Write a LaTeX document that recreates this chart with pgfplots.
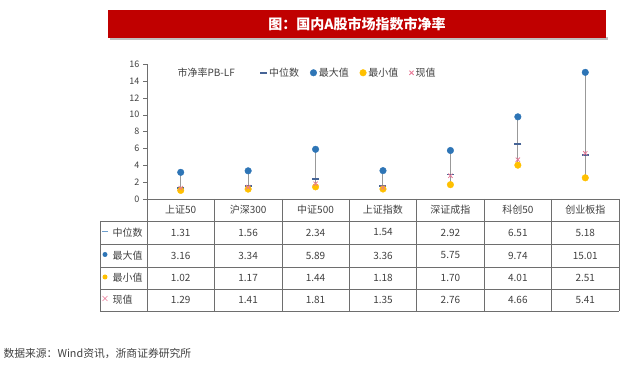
\documentclass[border=0pt]{standalone}
\usepackage{pgfplots}
\usepackage{pgfplotstable}
\pgfplotsset{compat=1.18}
\usepackage{fontspec}
\setmainfont{Noto Sans CJK SC}
\definecolor{bannerred}{RGB}{192,0,0}
\definecolor{maxblue}{RGB}{46,117,182}
\definecolor{mingold}{RGB}{255,192,0}
\definecolor{curpink}{RGB}{232,120,150}
\definecolor{medblue}{RGB}{70,100,150}
\definecolor{gridgray}{RGB}{110,110,110}
\definecolor{txt}{RGB}{64,64,64}
\pgfplotstableread{
x med max min cur
0 1.31 3.16 1.02 1.29
1 1.56 3.34 1.17 1.41
2 2.34 5.89 1.44 1.81
3 1.54 3.36 1.18 1.35
4 2.92 5.75 1.70 2.76
5 6.51 9.74 4.01 4.66
6 5.18 15.01 2.51 5.41
}\datatable
\newcommand\tf{\fontsize{10}{12}\selectfont}
\begin{document}
\begin{tikzpicture}[x=1pt,y=1pt]
\path[use as bounding box] (0,0) rectangle (640,366);
% banner
\fill[black!25] (110,326) rectangle (608,329);
\fill[bannerred] (108,328) rectangle (606,356);
\node[text=white,font=\fontsize{14}{16}\selectfont\bfseries] at (357,342) {图：国内A股市场指数市净率};
\begin{axis}[
  at={(147pt,167pt)}, anchor=south west,
  scale only axis, width=472pt, height=135pt,
  xmin=-0.5, xmax=6.5, ymin=0, ymax=16,
  axis x line=none, axis y line=left,
  y axis line style={-, draw=gridgray},
  ytick={0,2,...,16}, tick align=outside, major tick length=4pt,
  ytick style={draw=gridgray},
  yticklabel style={font=\fontsize{9}{10}\selectfont, text=txt},
  /pgf/number format/assume math mode=true,
  clip=false,
  unbounded coords=jump,
  legend style={at={(0.233,0.935)}, anchor=west, draw=none, fill=none,
    font=\tf, text=txt, legend columns=-1,
    /tikz/every odd column/.append style={column sep=0pt},
    /tikz/every even column/.append style={column sep=9pt}},
  legend image code/.code={\draw[#1] plot coordinates {(0.12cm,0cm)};},
]
\addplot[gray!80, line width=1pt, forget plot] coordinates {
 (0,1.02) (0,3.16) (0.5,nan)
 (1,1.17) (1,3.34) (1.5,nan)
 (2,1.44) (2,5.89) (2.5,nan)
 (3,1.18) (3,3.36) (3.5,nan)
 (4,1.70) (4,5.75) (4.5,nan)
 (5,4.01) (5,9.74) (5.5,nan)
 (6,2.51) (6,15.01)
};
\addplot[only marks, mark=-, mark size=3.5pt, mark options={line width=1.6pt, draw=medblue}] table[x=x,y=med] {\datatable};
\addlegendentry{中位数}
\addplot[only marks, mark=*, mark size=3.3pt, mark options={draw=maxblue, fill=maxblue}] table[x=x,y=max] {\datatable};
\addlegendentry{最大值}
\addplot[only marks, mark=*, mark size=3.3pt, mark options={draw=mingold, fill=mingold}] table[x=x,y=min] {\datatable};
\addlegendentry{最小值}
\addplot[only marks, mark=x, mark size=3pt, mark options={draw=curpink, line width=0.8pt}] table[x=x,y=cur] {\datatable};
\addlegendentry{现值}
\end{axis}
\node[anchor=west, font=\tf, text=txt] at (174,293) {市净率PB-LF};
% table grid
\draw[gridgray, line width=0.6pt] (147,167) -- (619,167);
\foreach \yy in {145,122,99,77,55} \draw[gridgray, line width=0.6pt] (100,\yy) -- (619,\yy);
\draw[gridgray, line width=0.6pt] (100,145) -- (100,55);
\foreach \k in {0,...,7} \draw[gridgray, line width=0.6pt] ({147+67.43*\k},167) -- ({147+67.43*\k},55);
% header
\foreach \lab [count=\i from 0] in {上证50,沪深300,中证500,上证指数,深证成指,科创50,创业板指}
  \node[font=\tf, text=txt] at ({180.7+67.43*\i},156) {\lab};
% row labels
\fill[maxblue!70] (102,133.5) rectangle (108,134.7);
\node[anchor=west, font=\tf, text=txt] at (109,133.5) {中位数};
\fill[maxblue] (105,111.5) circle (2.5);
\node[anchor=west, font=\tf, text=txt] at (109,110.5) {最大值};
\fill[mingold] (105,89) circle (2.5);
\node[anchor=west, font=\tf, text=txt] at (109,88) {最小值};
\draw[curpink, line width=0.6pt] (102.5,65) -- (107.5,70) (102.5,70) -- (107.5,65);
\node[anchor=west, font=\tf, text=txt] at (109,66) {现值};
% values
\foreach \v [count=\i from 0] in {1.31,1.56,2.34,1.54,2.92,6.51,5.18}
  \node[font=\tf, text=txt] at ({180.7+67.43*\i},133.5) {\v};
\foreach \v [count=\i from 0] in {3.16,3.34,5.89,3.36,5.75,9.74,15.01}
  \node[font=\tf, text=txt] at ({180.7+67.43*\i},110.5) {\v};
\foreach \v [count=\i from 0] in {1.02,1.17,1.44,1.18,1.70,4.01,2.51}
  \node[font=\tf, text=txt] at ({180.7+67.43*\i},88) {\v};
\foreach \v [count=\i from 0] in {1.29,1.41,1.81,1.35,2.76,4.66,5.41}
  \node[font=\tf, text=txt] at ({180.7+67.43*\i},66) {\v};
% source
\node[anchor=west, font=\fontsize{10.8}{13}\selectfont, text=txt] at (0,12) {数据来源：Wind资讯，浙商证券研究所};
\end{tikzpicture}
\end{document}
